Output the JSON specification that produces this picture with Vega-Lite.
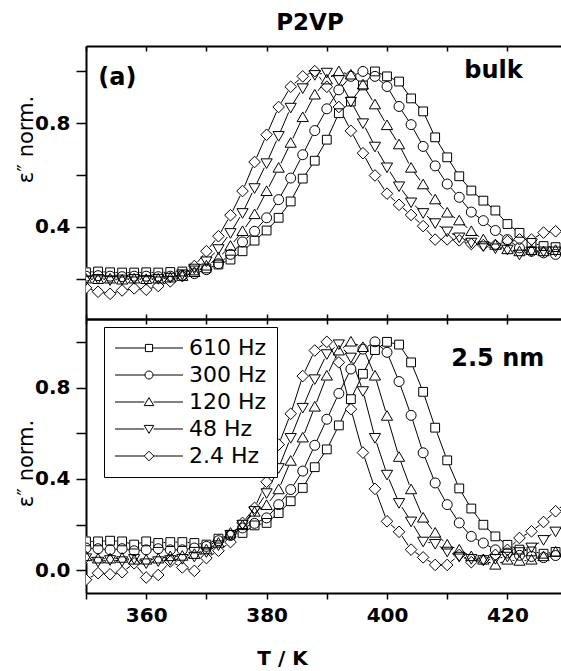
{
  "$schema": "https://vega.github.io/schema/vega-lite/v6.json",
  "padding": {"left": 15, "top": 12, "right": 0, "bottom": 0},
  "bounds": "flush",
  "spacing": 0,
  "title": {"text": "P2VP", "font": "DejaVu Sans", "fontSize": 23, "fontWeight": "bold", "color": "black", "anchor": "middle", "offset": 10, "dx": 22},
  "config": {
    "view": {"stroke": null},
    "axis": {"grid": false, "domainColor": "black", "tickColor": "black", "labelColor": "black", "titleColor": "black", "labelFont": "DejaVu Sans", "labelFontWeight": "bold", "labelFontSize": 20, "domainWidth": 2, "tickWidth": 1.5, "labelFlush": false}
  },
  "datasets": {
    "bulk": [
      {"T":350,"v":0.225,"f":"610 Hz"},{"T":352,"v":0.228,"f":"610 Hz"},{"T":354,"v":0.225,"f":"610 Hz"},{"T":356,"v":0.224,"f":"610 Hz"},{"T":358,"v":0.224,"f":"610 Hz"},{"T":360,"v":0.225,"f":"610 Hz"},{"T":362,"v":0.224,"f":"610 Hz"},{"T":364,"v":0.226,"f":"610 Hz"},{"T":366,"v":0.228,"f":"610 Hz"},{"T":368,"v":0.232,"f":"610 Hz"},{"T":370,"v":0.24,"f":"610 Hz"},{"T":372,"v":0.255,"f":"610 Hz"},{"T":374,"v":0.274,"f":"610 Hz"},{"T":376,"v":0.306,"f":"610 Hz"},{"T":378,"v":0.347,"f":"610 Hz"},{"T":380,"v":0.386,"f":"610 Hz"},{"T":382,"v":0.435,"f":"610 Hz"},{"T":384,"v":0.498,"f":"610 Hz"},{"T":386,"v":0.586,"f":"610 Hz"},{"T":388,"v":0.655,"f":"610 Hz"},{"T":390,"v":0.736,"f":"610 Hz"},{"T":392,"v":0.838,"f":"610 Hz"},{"T":394,"v":0.883,"f":"610 Hz"},{"T":396,"v":0.945,"f":"610 Hz"},{"T":398,"v":0.999,"f":"610 Hz"},{"T":400,"v":0.98,"f":"610 Hz"},{"T":402,"v":0.96,"f":"610 Hz"},{"T":404,"v":0.895,"f":"610 Hz"},{"T":406,"v":0.845,"f":"610 Hz"},{"T":408,"v":0.745,"f":"610 Hz"},{"T":410,"v":0.668,"f":"610 Hz"},{"T":412,"v":0.595,"f":"610 Hz"},{"T":414,"v":0.54,"f":"610 Hz"},{"T":416,"v":0.501,"f":"610 Hz"},{"T":418,"v":0.463,"f":"610 Hz"},{"T":420,"v":0.411,"f":"610 Hz"},{"T":422,"v":0.377,"f":"610 Hz"},{"T":424,"v":0.338,"f":"610 Hz"},{"T":426,"v":0.326,"f":"610 Hz"},{"T":428,"v":0.322,"f":"610 Hz"},{"T":430,"v":0.32,"f":"610 Hz"},
      {"T":350,"v":0.21,"f":"300 Hz"},{"T":352,"v":0.212,"f":"300 Hz"},{"T":354,"v":0.21,"f":"300 Hz"},{"T":356,"v":0.208,"f":"300 Hz"},{"T":358,"v":0.21,"f":"300 Hz"},{"T":360,"v":0.21,"f":"300 Hz"},{"T":362,"v":0.208,"f":"300 Hz"},{"T":364,"v":0.21,"f":"300 Hz"},{"T":366,"v":0.213,"f":"300 Hz"},{"T":368,"v":0.22,"f":"300 Hz"},{"T":370,"v":0.235,"f":"300 Hz"},{"T":372,"v":0.258,"f":"300 Hz"},{"T":374,"v":0.294,"f":"300 Hz"},{"T":376,"v":0.342,"f":"300 Hz"},{"T":378,"v":0.383,"f":"300 Hz"},{"T":380,"v":0.435,"f":"300 Hz"},{"T":382,"v":0.505,"f":"300 Hz"},{"T":384,"v":0.588,"f":"300 Hz"},{"T":386,"v":0.678,"f":"300 Hz"},{"T":388,"v":0.771,"f":"300 Hz"},{"T":390,"v":0.855,"f":"300 Hz"},{"T":392,"v":0.928,"f":"300 Hz"},{"T":394,"v":0.98,"f":"300 Hz"},{"T":396,"v":0.999,"f":"300 Hz"},{"T":398,"v":0.98,"f":"300 Hz"},{"T":400,"v":0.941,"f":"300 Hz"},{"T":402,"v":0.864,"f":"300 Hz"},{"T":404,"v":0.794,"f":"300 Hz"},{"T":406,"v":0.71,"f":"300 Hz"},{"T":408,"v":0.635,"f":"300 Hz"},{"T":410,"v":0.565,"f":"300 Hz"},{"T":412,"v":0.514,"f":"300 Hz"},{"T":414,"v":0.457,"f":"300 Hz"},{"T":416,"v":0.424,"f":"300 Hz"},{"T":418,"v":0.386,"f":"300 Hz"},{"T":420,"v":0.351,"f":"300 Hz"},{"T":422,"v":0.319,"f":"300 Hz"},{"T":424,"v":0.306,"f":"300 Hz"},{"T":426,"v":0.3,"f":"300 Hz"},{"T":428,"v":0.294,"f":"300 Hz"},{"T":430,"v":0.29,"f":"300 Hz"},
      {"T":350,"v":0.2,"f":"120 Hz"},{"T":352,"v":0.198,"f":"120 Hz"},{"T":354,"v":0.2,"f":"120 Hz"},{"T":356,"v":0.196,"f":"120 Hz"},{"T":358,"v":0.2,"f":"120 Hz"},{"T":360,"v":0.198,"f":"120 Hz"},{"T":362,"v":0.2,"f":"120 Hz"},{"T":364,"v":0.204,"f":"120 Hz"},{"T":366,"v":0.21,"f":"120 Hz"},{"T":368,"v":0.225,"f":"120 Hz"},{"T":370,"v":0.25,"f":"120 Hz"},{"T":372,"v":0.28,"f":"120 Hz"},{"T":374,"v":0.326,"f":"120 Hz"},{"T":376,"v":0.383,"f":"120 Hz"},{"T":378,"v":0.448,"f":"120 Hz"},{"T":380,"v":0.537,"f":"120 Hz"},{"T":382,"v":0.627,"f":"120 Hz"},{"T":384,"v":0.723,"f":"120 Hz"},{"T":386,"v":0.822,"f":"120 Hz"},{"T":388,"v":0.909,"f":"120 Hz"},{"T":390,"v":0.967,"f":"120 Hz"},{"T":392,"v":0.999,"f":"120 Hz"},{"T":394,"v":0.986,"f":"120 Hz"},{"T":396,"v":0.948,"f":"120 Hz"},{"T":398,"v":0.871,"f":"120 Hz"},{"T":400,"v":0.791,"f":"120 Hz"},{"T":402,"v":0.717,"f":"120 Hz"},{"T":404,"v":0.627,"f":"120 Hz"},{"T":406,"v":0.563,"f":"120 Hz"},{"T":408,"v":0.505,"f":"120 Hz"},{"T":410,"v":0.454,"f":"120 Hz"},{"T":412,"v":0.424,"f":"120 Hz"},{"T":414,"v":0.383,"f":"120 Hz"},{"T":416,"v":0.351,"f":"120 Hz"},{"T":418,"v":0.33,"f":"120 Hz"},{"T":420,"v":0.313,"f":"120 Hz"},{"T":422,"v":0.305,"f":"120 Hz"},{"T":424,"v":0.31,"f":"120 Hz"},{"T":426,"v":0.305,"f":"120 Hz"},{"T":428,"v":0.31,"f":"120 Hz"},{"T":430,"v":0.31,"f":"120 Hz"},
      {"T":350,"v":0.195,"f":"48 Hz"},{"T":352,"v":0.2,"f":"48 Hz"},{"T":354,"v":0.195,"f":"48 Hz"},{"T":356,"v":0.198,"f":"48 Hz"},{"T":358,"v":0.2,"f":"48 Hz"},{"T":360,"v":0.196,"f":"48 Hz"},{"T":362,"v":0.2,"f":"48 Hz"},{"T":364,"v":0.205,"f":"48 Hz"},{"T":366,"v":0.218,"f":"48 Hz"},{"T":368,"v":0.24,"f":"48 Hz"},{"T":370,"v":0.268,"f":"48 Hz"},{"T":372,"v":0.315,"f":"48 Hz"},{"T":374,"v":0.377,"f":"48 Hz"},{"T":376,"v":0.454,"f":"48 Hz"},{"T":378,"v":0.55,"f":"48 Hz"},{"T":380,"v":0.646,"f":"48 Hz"},{"T":382,"v":0.751,"f":"48 Hz"},{"T":384,"v":0.86,"f":"48 Hz"},{"T":386,"v":0.935,"f":"48 Hz"},{"T":388,"v":0.986,"f":"48 Hz"},{"T":390,"v":0.995,"f":"48 Hz"},{"T":392,"v":0.967,"f":"48 Hz"},{"T":394,"v":0.883,"f":"48 Hz"},{"T":396,"v":0.8,"f":"48 Hz"},{"T":398,"v":0.71,"f":"48 Hz"},{"T":400,"v":0.63,"f":"48 Hz"},{"T":402,"v":0.557,"f":"48 Hz"},{"T":404,"v":0.495,"f":"48 Hz"},{"T":406,"v":0.454,"f":"48 Hz"},{"T":408,"v":0.415,"f":"48 Hz"},{"T":410,"v":0.383,"f":"48 Hz"},{"T":412,"v":0.36,"f":"48 Hz"},{"T":414,"v":0.34,"f":"48 Hz"},{"T":416,"v":0.326,"f":"48 Hz"},{"T":418,"v":0.318,"f":"48 Hz"},{"T":420,"v":0.313,"f":"48 Hz"},{"T":422,"v":0.294,"f":"48 Hz"},{"T":424,"v":0.306,"f":"48 Hz"},{"T":426,"v":0.306,"f":"48 Hz"},{"T":428,"v":0.306,"f":"48 Hz"},{"T":430,"v":0.3,"f":"48 Hz"},
      {"T":350,"v":0.165,"f":"2.4 Hz"},{"T":352,"v":0.15,"f":"2.4 Hz"},{"T":354,"v":0.142,"f":"2.4 Hz"},{"T":356,"v":0.155,"f":"2.4 Hz"},{"T":358,"v":0.163,"f":"2.4 Hz"},{"T":360,"v":0.158,"f":"2.4 Hz"},{"T":362,"v":0.172,"f":"2.4 Hz"},{"T":364,"v":0.19,"f":"2.4 Hz"},{"T":366,"v":0.21,"f":"2.4 Hz"},{"T":368,"v":0.249,"f":"2.4 Hz"},{"T":370,"v":0.306,"f":"2.4 Hz"},{"T":372,"v":0.364,"f":"2.4 Hz"},{"T":374,"v":0.445,"f":"2.4 Hz"},{"T":376,"v":0.538,"f":"2.4 Hz"},{"T":378,"v":0.65,"f":"2.4 Hz"},{"T":380,"v":0.755,"f":"2.4 Hz"},{"T":382,"v":0.862,"f":"2.4 Hz"},{"T":384,"v":0.94,"f":"2.4 Hz"},{"T":386,"v":0.98,"f":"2.4 Hz"},{"T":388,"v":1.0,"f":"2.4 Hz"},{"T":390,"v":0.94,"f":"2.4 Hz"},{"T":392,"v":0.862,"f":"2.4 Hz"},{"T":394,"v":0.77,"f":"2.4 Hz"},{"T":396,"v":0.684,"f":"2.4 Hz"},{"T":398,"v":0.598,"f":"2.4 Hz"},{"T":400,"v":0.528,"f":"2.4 Hz"},{"T":402,"v":0.485,"f":"2.4 Hz"},{"T":404,"v":0.446,"f":"2.4 Hz"},{"T":406,"v":0.403,"f":"2.4 Hz"},{"T":408,"v":0.351,"f":"2.4 Hz"},{"T":410,"v":0.352,"f":"2.4 Hz"},{"T":412,"v":0.348,"f":"2.4 Hz"},{"T":414,"v":0.334,"f":"2.4 Hz"},{"T":416,"v":0.33,"f":"2.4 Hz"},{"T":418,"v":0.33,"f":"2.4 Hz"},{"T":420,"v":0.345,"f":"2.4 Hz"},{"T":422,"v":0.352,"f":"2.4 Hz"},{"T":424,"v":0.351,"f":"2.4 Hz"},{"T":426,"v":0.378,"f":"2.4 Hz"},{"T":428,"v":0.383,"f":"2.4 Hz"},{"T":430,"v":0.38,"f":"2.4 Hz"}
    ],
    "film": [
      {"T":350,"v":0.126,"f":"610 Hz"},{"T":352,"v":0.126,"f":"610 Hz"},{"T":354,"v":0.129,"f":"610 Hz"},{"T":356,"v":0.126,"f":"610 Hz"},{"T":358,"v":0.112,"f":"610 Hz"},{"T":360,"v":0.126,"f":"610 Hz"},{"T":362,"v":0.119,"f":"610 Hz"},{"T":364,"v":0.123,"f":"610 Hz"},{"T":366,"v":0.123,"f":"610 Hz"},{"T":368,"v":0.119,"f":"610 Hz"},{"T":370,"v":0.112,"f":"610 Hz"},{"T":372,"v":0.138,"f":"610 Hz"},{"T":374,"v":0.155,"f":"610 Hz"},{"T":376,"v":0.163,"f":"610 Hz"},{"T":378,"v":0.196,"f":"610 Hz"},{"T":380,"v":0.207,"f":"610 Hz"},{"T":382,"v":0.25,"f":"610 Hz"},{"T":384,"v":0.302,"f":"610 Hz"},{"T":386,"v":0.36,"f":"610 Hz"},{"T":388,"v":0.451,"f":"610 Hz"},{"T":390,"v":0.529,"f":"610 Hz"},{"T":392,"v":0.634,"f":"610 Hz"},{"T":394,"v":0.749,"f":"610 Hz"},{"T":396,"v":0.86,"f":"610 Hz"},{"T":398,"v":0.964,"f":"610 Hz"},{"T":400,"v":1.0,"f":"610 Hz"},{"T":402,"v":0.988,"f":"610 Hz"},{"T":404,"v":0.91,"f":"610 Hz"},{"T":406,"v":0.781,"f":"610 Hz"},{"T":408,"v":0.624,"f":"610 Hz"},{"T":410,"v":0.481,"f":"610 Hz"},{"T":412,"v":0.358,"f":"610 Hz"},{"T":414,"v":0.27,"f":"610 Hz"},{"T":416,"v":0.199,"f":"610 Hz"},{"T":418,"v":0.148,"f":"610 Hz"},{"T":420,"v":0.111,"f":"610 Hz"},{"T":422,"v":0.09,"f":"610 Hz"},{"T":424,"v":0.082,"f":"610 Hz"},{"T":426,"v":0.072,"f":"610 Hz"},{"T":428,"v":0.08,"f":"610 Hz"},{"T":430,"v":0.075,"f":"610 Hz"},
      {"T":350,"v":0.097,"f":"300 Hz"},{"T":352,"v":0.094,"f":"300 Hz"},{"T":354,"v":0.089,"f":"300 Hz"},{"T":356,"v":0.094,"f":"300 Hz"},{"T":358,"v":0.085,"f":"300 Hz"},{"T":360,"v":0.089,"f":"300 Hz"},{"T":362,"v":0.094,"f":"300 Hz"},{"T":364,"v":0.089,"f":"300 Hz"},{"T":366,"v":0.089,"f":"300 Hz"},{"T":368,"v":0.097,"f":"300 Hz"},{"T":370,"v":0.104,"f":"300 Hz"},{"T":372,"v":0.129,"f":"300 Hz"},{"T":374,"v":0.152,"f":"300 Hz"},{"T":376,"v":0.185,"f":"300 Hz"},{"T":378,"v":0.205,"f":"300 Hz"},{"T":380,"v":0.229,"f":"300 Hz"},{"T":382,"v":0.287,"f":"300 Hz"},{"T":384,"v":0.353,"f":"300 Hz"},{"T":386,"v":0.434,"f":"300 Hz"},{"T":388,"v":0.547,"f":"300 Hz"},{"T":390,"v":0.661,"f":"300 Hz"},{"T":392,"v":0.774,"f":"300 Hz"},{"T":394,"v":0.881,"f":"300 Hz"},{"T":396,"v":0.968,"f":"300 Hz"},{"T":398,"v":1.0,"f":"300 Hz"},{"T":400,"v":0.954,"f":"300 Hz"},{"T":402,"v":0.826,"f":"300 Hz"},{"T":404,"v":0.678,"f":"300 Hz"},{"T":406,"v":0.514,"f":"300 Hz"},{"T":408,"v":0.382,"f":"300 Hz"},{"T":410,"v":0.287,"f":"300 Hz"},{"T":412,"v":0.207,"f":"300 Hz"},{"T":414,"v":0.148,"f":"300 Hz"},{"T":416,"v":0.119,"f":"300 Hz"},{"T":418,"v":0.089,"f":"300 Hz"},{"T":420,"v":0.075,"f":"300 Hz"},{"T":422,"v":0.065,"f":"300 Hz"},{"T":424,"v":0.06,"f":"300 Hz"},{"T":426,"v":0.055,"f":"300 Hz"},{"T":428,"v":0.064,"f":"300 Hz"},{"T":430,"v":0.06,"f":"300 Hz"},
      {"T":350,"v":0.06,"f":"120 Hz"},{"T":352,"v":0.05,"f":"120 Hz"},{"T":354,"v":0.05,"f":"120 Hz"},{"T":356,"v":0.053,"f":"120 Hz"},{"T":358,"v":0.045,"f":"120 Hz"},{"T":360,"v":0.045,"f":"120 Hz"},{"T":362,"v":0.05,"f":"120 Hz"},{"T":364,"v":0.06,"f":"120 Hz"},{"T":366,"v":0.062,"f":"120 Hz"},{"T":368,"v":0.07,"f":"120 Hz"},{"T":370,"v":0.09,"f":"120 Hz"},{"T":372,"v":0.119,"f":"120 Hz"},{"T":374,"v":0.163,"f":"120 Hz"},{"T":376,"v":0.196,"f":"120 Hz"},{"T":378,"v":0.255,"f":"120 Hz"},{"T":380,"v":0.284,"f":"120 Hz"},{"T":382,"v":0.353,"f":"120 Hz"},{"T":384,"v":0.478,"f":"120 Hz"},{"T":386,"v":0.58,"f":"120 Hz"},{"T":388,"v":0.715,"f":"120 Hz"},{"T":390,"v":0.851,"f":"120 Hz"},{"T":392,"v":0.961,"f":"120 Hz"},{"T":394,"v":1.0,"f":"120 Hz"},{"T":396,"v":0.976,"f":"120 Hz"},{"T":398,"v":0.851,"f":"120 Hz"},{"T":400,"v":0.675,"f":"120 Hz"},{"T":402,"v":0.495,"f":"120 Hz"},{"T":404,"v":0.353,"f":"120 Hz"},{"T":406,"v":0.229,"f":"120 Hz"},{"T":408,"v":0.163,"f":"120 Hz"},{"T":410,"v":0.111,"f":"120 Hz"},{"T":412,"v":0.089,"f":"120 Hz"},{"T":414,"v":0.06,"f":"120 Hz"},{"T":416,"v":0.045,"f":"120 Hz"},{"T":418,"v":0.023,"f":"120 Hz"},{"T":420,"v":0.045,"f":"120 Hz"},{"T":422,"v":0.04,"f":"120 Hz"},{"T":424,"v":0.045,"f":"120 Hz"},{"T":426,"v":0.06,"f":"120 Hz"},{"T":428,"v":0.08,"f":"120 Hz"},{"T":430,"v":0.09,"f":"120 Hz"},
      {"T":350,"v":0.053,"f":"48 Hz"},{"T":352,"v":0.038,"f":"48 Hz"},{"T":354,"v":0.045,"f":"48 Hz"},{"T":356,"v":0.04,"f":"48 Hz"},{"T":358,"v":0.05,"f":"48 Hz"},{"T":360,"v":0.031,"f":"48 Hz"},{"T":362,"v":0.04,"f":"48 Hz"},{"T":364,"v":0.045,"f":"48 Hz"},{"T":366,"v":0.05,"f":"48 Hz"},{"T":368,"v":0.06,"f":"48 Hz"},{"T":370,"v":0.08,"f":"48 Hz"},{"T":372,"v":0.11,"f":"48 Hz"},{"T":374,"v":0.155,"f":"48 Hz"},{"T":376,"v":0.2,"f":"48 Hz"},{"T":378,"v":0.26,"f":"48 Hz"},{"T":380,"v":0.338,"f":"48 Hz"},{"T":382,"v":0.448,"f":"48 Hz"},{"T":384,"v":0.58,"f":"48 Hz"},{"T":386,"v":0.712,"f":"48 Hz"},{"T":388,"v":0.837,"f":"48 Hz"},{"T":390,"v":0.947,"f":"48 Hz"},{"T":392,"v":0.99,"f":"48 Hz"},{"T":394,"v":0.932,"f":"48 Hz"},{"T":396,"v":0.785,"f":"48 Hz"},{"T":398,"v":0.58,"f":"48 Hz"},{"T":400,"v":0.419,"f":"48 Hz"},{"T":402,"v":0.295,"f":"48 Hz"},{"T":404,"v":0.214,"f":"48 Hz"},{"T":406,"v":0.126,"f":"48 Hz"},{"T":408,"v":0.116,"f":"48 Hz"},{"T":410,"v":0.082,"f":"48 Hz"},{"T":412,"v":0.06,"f":"48 Hz"},{"T":414,"v":0.05,"f":"48 Hz"},{"T":416,"v":0.045,"f":"48 Hz"},{"T":418,"v":0.05,"f":"48 Hz"},{"T":420,"v":0.06,"f":"48 Hz"},{"T":422,"v":0.08,"f":"48 Hz"},{"T":424,"v":0.1,"f":"48 Hz"},{"T":426,"v":0.133,"f":"48 Hz"},{"T":428,"v":0.17,"f":"48 Hz"},{"T":430,"v":0.2,"f":"48 Hz"},
      {"T":350,"v":-0.042,"f":"2.4 Hz"},{"T":352,"v":-0.013,"f":"2.4 Hz"},{"T":354,"v":-0.018,"f":"2.4 Hz"},{"T":356,"v":-0.009,"f":"2.4 Hz"},{"T":358,"v":0.03,"f":"2.4 Hz"},{"T":360,"v":-0.032,"f":"2.4 Hz"},{"T":362,"v":-0.021,"f":"2.4 Hz"},{"T":364,"v":0.038,"f":"2.4 Hz"},{"T":366,"v":0.012,"f":"2.4 Hz"},{"T":368,"v":-0.003,"f":"2.4 Hz"},{"T":370,"v":0.053,"f":"2.4 Hz"},{"T":372,"v":0.085,"f":"2.4 Hz"},{"T":374,"v":0.123,"f":"2.4 Hz"},{"T":376,"v":0.207,"f":"2.4 Hz"},{"T":378,"v":0.273,"f":"2.4 Hz"},{"T":380,"v":0.387,"f":"2.4 Hz"},{"T":382,"v":0.55,"f":"2.4 Hz"},{"T":384,"v":0.685,"f":"2.4 Hz"},{"T":386,"v":0.85,"f":"2.4 Hz"},{"T":388,"v":0.962,"f":"2.4 Hz"},{"T":390,"v":1.0,"f":"2.4 Hz"},{"T":392,"v":0.91,"f":"2.4 Hz"},{"T":394,"v":0.705,"f":"2.4 Hz"},{"T":396,"v":0.515,"f":"2.4 Hz"},{"T":398,"v":0.356,"f":"2.4 Hz"},{"T":400,"v":0.214,"f":"2.4 Hz"},{"T":402,"v":0.168,"f":"2.4 Hz"},{"T":404,"v":0.09,"f":"2.4 Hz"},{"T":406,"v":0.056,"f":"2.4 Hz"},{"T":408,"v":0.023,"f":"2.4 Hz"},{"T":410,"v":0.023,"f":"2.4 Hz"},{"T":412,"v":0.067,"f":"2.4 Hz"},{"T":414,"v":0.035,"f":"2.4 Hz"},{"T":416,"v":0.045,"f":"2.4 Hz"},{"T":418,"v":0.067,"f":"2.4 Hz"},{"T":420,"v":0.089,"f":"2.4 Hz"},{"T":422,"v":0.141,"f":"2.4 Hz"},{"T":424,"v":0.17,"f":"2.4 Hz"},{"T":426,"v":0.211,"f":"2.4 Hz"},{"T":428,"v":0.258,"f":"2.4 Hz"},{"T":430,"v":0.3,"f":"2.4 Hz"}
    ],
    "legendKeys": []
  },
  "resolve": {"legend": {"shape": "independent"}},
  "vconcat": [
    {
      "width": 475,
      "height": 273,
      "resolve": {"axis": {"x": "independent", "y": "independent"}},
      "layer": [
        {
          "data": {"name": "bulk"},
          "mark": {"type": "line", "color": "black", "strokeWidth": 1, "clip": true},
          "encoding": {
            "x": {"field": "T", "type": "quantitative", "scale": {"domain": [350, 428.9], "nice": false, "zero": false},
                  "axis": {"orient": "top", "values": [350, 360, 370, 380, 390, 400, 410, 420], "labels": false, "tickSize": -5, "title": null}},
            "y": {"field": "v", "type": "quantitative", "scale": {"domain": [0.045, 1.097], "nice": false, "zero": false},
                  "axis": {"orient": "left", "values": [0.2, 0.4, 0.6, 0.8, 1.0], "labelExpr": "datum.value == 0.4 || datum.value == 0.8 ? format(datum.value, '.1f') : ''", "tickSize": 10, "labelPadding": 6,
                           "title": "ε″ norm.", "titleFont": "DejaVu Sans", "titleFontSize": 21, "titleFontWeight": "normal", "titleAngle": 270, "titleAlign": "center", "titleBaseline": "middle", "titleX": -60, "titleY": 93}},
            "detail": {"field": "f"}
          }
        },
        {
          "data": {"name": "bulk"},
          "mark": {"type": "point", "shape": "circle", "filled": true, "fill": "white", "strokeWidth": 0, "size": 110, "opacity": 1, "clip": true},
          "encoding": {
            "x": {"field": "T", "type": "quantitative", "scale": {"domain": [350, 428.9], "nice": false, "zero": false},
                  "axis": {"orient": "bottom", "values": [350, 360, 370, 380, 390, 400, 410, 420], "labels": false, "tickSize": -5, "title": null}},
            "y": {"field": "v", "type": "quantitative", "axis": null}
          }
        },
        {
          "data": {"name": "bulk"},
          "mark": {"type": "point", "filled": false, "stroke": "black", "strokeWidth": 1, "size": 64, "opacity": 1, "clip": true},
          "encoding": {
            "x": {"field": "T", "type": "quantitative", "axis": null},
            "y": {"field": "v", "type": "quantitative", "axis": null},
            "shape": {"field": "f", "type": "nominal", "legend": null,
                      "scale": {"domain": ["610 Hz", "300 Hz", "120 Hz", "48 Hz", "2.4 Hz"],
                                "range": ["M-1.1,-1.1H1.1V1.1H-1.1Z", "M-1.25,0A1.25,1.25,0,1,1,1.25,0A1.25,1.25,0,1,1,-1.25,0Z", "M0,-1.35L1.4,1.05H-1.4Z", "M0,1.35L1.4,-1.05H-1.4Z", "M0,-1.45L1.45,0L0,1.45L-1.45,0Z"]}}
          }
        },
        {
          "data": {"values": [{"label": "(a)"}]},
          "mark": {"type": "text", "font": "DejaVu Sans", "fontSize": 24, "fontWeight": "bold", "align": "center", "baseline": "alphabetic", "color": "black"},
          "encoding": {"x": {"datum": 355.2, "axis": null}, "y": {"datum": 0.947, "axis": null}, "text": {"field": "label"}}
        },
        {
          "data": {"values": [{"label": "bulk"}]},
          "mark": {"type": "text", "font": "DejaVu Sans", "fontSize": 24, "fontWeight": "bold", "align": "center", "baseline": "alphabetic", "color": "black"},
          "encoding": {"x": {"datum": 417.7, "axis": null}, "y": {"datum": 0.973, "axis": null}, "text": {"field": "label"}}
        }
      ]
    },
    {
      "width": 475,
      "height": 274,
      "resolve": {"axis": {"x": "independent", "y": "independent"}, "scale": {"shape": "independent"}, "legend": {"shape": "independent"}},
      "layer": [
        {
          "data": {"name": "film"},
          "mark": {"type": "line", "color": "black", "strokeWidth": 1, "clip": true},
          "encoding": {
            "x": {"field": "T", "type": "quantitative", "scale": {"domain": [350, 428.9], "nice": false, "zero": false},
                  "axis": {"orient": "top", "values": [350, 360, 370, 380, 390, 400, 410, 420], "labels": false, "tickSize": -5, "title": null}},
            "y": {"field": "v", "type": "quantitative", "scale": {"domain": [-0.1, 1.1], "nice": false, "zero": false},
                  "axis": {"orient": "left", "values": [0, 0.2, 0.4, 0.6, 0.8, 1.0], "labelExpr": "datum.value == 0 || datum.value == 0.4 || datum.value == 0.8 ? format(datum.value, '.1f') : ''", "tickSize": 10, "labelPadding": 6,
                           "title": "ε″ norm.", "titleFont": "DejaVu Sans", "titleFontSize": 21, "titleFontWeight": "normal", "titleAngle": 270, "titleAlign": "center", "titleBaseline": "middle", "titleX": -60, "titleY": 144}},
            "detail": {"field": "f"}
          }
        },
        {
          "data": {"name": "film"},
          "mark": {"type": "point", "shape": "circle", "filled": true, "fill": "white", "strokeWidth": 0, "size": 110, "opacity": 1, "clip": true},
          "encoding": {
            "x": {"field": "T", "type": "quantitative", "scale": {"domain": [350, 428.9], "nice": false, "zero": false},
                  "axis": {"orient": "bottom", "values": [350, 360, 370, 380, 390, 400, 410, 420], "labelExpr": "datum.value % 20 == 0 ? datum.label : ''", "tickSize": 6, "labelPadding": 6,
                           "title": "T / K", "titleFont": "DejaVu Sans", "titleFontSize": 20, "titleFontWeight": "bold", "titleAlign": "center", "titleBaseline": "alphabetic", "titleX": 196, "titleY": 71}},
            "y": {"field": "v", "type": "quantitative", "axis": null}
          }
        },
        {
          "data": {"name": "film"},
          "mark": {"type": "point", "filled": false, "stroke": "black", "strokeWidth": 1, "size": 64, "opacity": 1, "clip": true},
          "encoding": {
            "x": {"field": "T", "type": "quantitative", "axis": null},
            "y": {"field": "v", "type": "quantitative", "axis": null},
            "shape": {"field": "f", "type": "nominal", "legend": null,
                      "scale": {"domain": ["610 Hz", "300 Hz", "120 Hz", "48 Hz", "2.4 Hz"],
                                "range": ["M-1.1,-1.1H1.1V1.1H-1.1Z", "M-1.25,0A1.25,1.25,0,1,1,1.25,0A1.25,1.25,0,1,1,-1.25,0Z", "M0,-1.35L1.4,1.05H-1.4Z", "M0,1.35L1.4,-1.05H-1.4Z", "M0,-1.45L1.45,0L0,1.45L-1.45,0Z"]}}
          }
        },
        {
          "data": {"name": "legendKeys"},
          "mark": {"type": "point", "filled": false, "stroke": "black", "strokeWidth": 1, "size": 64, "opacity": 1},
          "encoding": {
            "x": {"field": "T", "type": "quantitative", "axis": null},
            "y": {"field": "v", "type": "quantitative", "axis": null},
            "shape": {"field": "f", "type": "nominal",
                      "scale": {"domain": ["610 Hz", "300 Hz", "120 Hz", "48 Hz", "2.4 Hz"],
                                "range": ["M-8.5,0H-0.9M0.9,0H8.5M-0.9,-0.9H0.9V0.9H-0.9Z", "M-8.5,0H-1M1,0H8.5M-1,0A1,1,0,1,1,1,0A1,1,0,1,1,-1,0Z", "M-8.5,0H-1.15M1.15,0H8.5M0,-1.1L1.2,0.9H-1.2Z", "M-8.5,0H-1.15M1.15,0H8.5M0,1.1L1.2,-0.9H-1.2Z", "M-8.5,0H-1.2M1.2,0H8.5M0,-1.2L1.2,0L0,1.2L-1.2,0Z"]},
                      "legend": {"orient": "none", "legendX": 18, "legendY": 8, "title": null, "padding": 10, "fillColor": "white", "strokeColor": "black",
                                 "labelFont": "DejaVu Sans", "labelFontSize": 22, "labelFontWeight": "normal", "labelColor": "black",
                                 "symbolSize": 64, "symbolOffset": 24, "labelOffset": 29, "rowPadding": 5, "symbolStrokeColor": "black", "symbolStrokeWidth": 1}}
          }
        },
        {
          "data": {"values": [{"label": "2.5 nm"}]},
          "mark": {"type": "text", "font": "DejaVu Sans", "fontSize": 24, "fontWeight": "bold", "align": "center", "baseline": "alphabetic", "color": "black"},
          "encoding": {"x": {"datum": 418.4, "axis": null}, "y": {"datum": 0.895, "axis": null}, "text": {"field": "label"}}
        }
      ]
    }
  ]
}
